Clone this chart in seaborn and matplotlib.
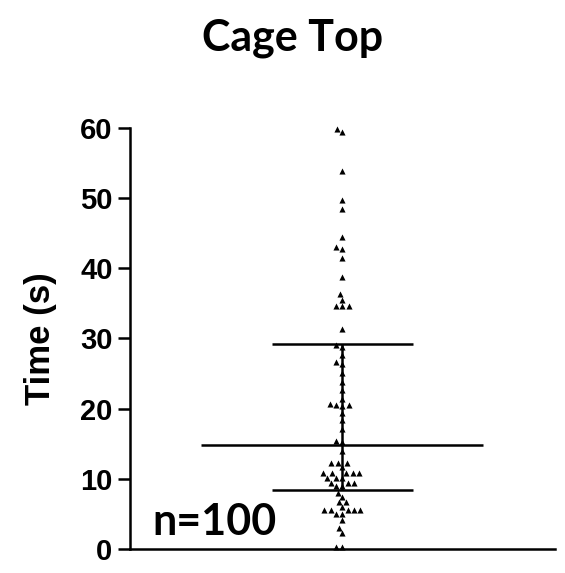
import warnings
warnings.filterwarnings("ignore")
import matplotlib
matplotlib.use("Agg")
import matplotlib.pyplot as plt
import seaborn as sns
import pandas as pd

# ---- data ----
times = [59.8, 59.4, 53.9, 49.7, 48.4, 44.5, 43.0, 42.8, 41.5, 38.7, 36.3, 35.5,
         34.6, 34.6, 34.6, 31.4,
         29.0, 28.8, 27.6, 26.6, 26.4, 25.0, 23.8, 22.6, 21.4, 20.6, 20.5, 20.5, 20.4,
         19.4, 18.3, 17.1, 15.4, 15.3,
         13.9, 12.3, 12.3, 12.3, 11.7, 10.8, 10.8, 10.8, 10.8, 10.8, 10.1, 10.1, 10.1,
         9.4, 9.4, 9.4, 8.9, 8.9, 8.0, 7.4, 6.7, 6.7, 6.0, 5.5, 5.5, 5.5, 5.5, 5.5,
         5.0, 5.0, 4.1, 3.0, 2.3, 0.3, 0.3]
group = ["Cage Top"] * len(times)
median_val = [14.8]
quartiles = [8.4, 29.2]
yticks = [0, 10, 20, 30, 40, 50, 60]
title = "Cage Top"
ylabel = "Time (s)"
n_label = "n=100"

df = pd.DataFrame({"group": group, "time": times})

sns.set_theme(style="ticks")
fig = plt.figure(figsize=(5.65, 5.73), dpi=100)
ax = fig.add_axes([0.230, 0.042, 0.752, 0.735])

sns.swarmplot(data=df, x="group", y="time", marker="^", color="black",
              size=4.4, linewidth=0, ax=ax, zorder=2)
for c in ax.collections:
    c.set_clip_on(False)

# summary lines
ax.hlines(median_val, -0.664, 0.664, color="black", lw=1.8, zorder=3)
ax.hlines(quartiles, -0.332, 0.332, color="black", lw=1.8, zorder=3)
ax.vlines([0], quartiles[0], quartiles[1], color="black", lw=1.8, zorder=3)

ax.set_xlim(-1, 1)
ax.set_ylim(0, 60)
ax.set_yticks(yticks)
ax.set_xticks([])
ax.set_xlabel("")
for s in ["top", "right"]:
    ax.spines[s].set_visible(False)
for s in ["left", "bottom"]:
    ax.spines[s].set_linewidth(1.8)
    ax.spines[s].set_color("black")
ax.tick_params(axis="y", length=9, width=1.8, pad=3.5, colors="black")
for lab in ax.get_yticklabels():
    lab.set_fontfamily("Liberation Sans")
    lab.set_fontweight("bold")
    lab.set_fontsize(21)

ax.set_ylabel(ylabel, fontfamily="Liberation Sans", fontweight="bold",
              fontsize=25, color="black")
ax.yaxis.set_label_coords(-0.172, 0.5)

ax.text(0.052, 0.033, n_label, transform=ax.transAxes, fontfamily="Lato",
        fontweight="bold", fontsize=31, va="baseline", ha="left", color="black")

fig.text(0.517, 0.933, title, fontfamily="Lato", fontweight="bold", fontsize=31,
         ha="center", va="center", color="black")

fig.savefig("out.png", dpi=100)
